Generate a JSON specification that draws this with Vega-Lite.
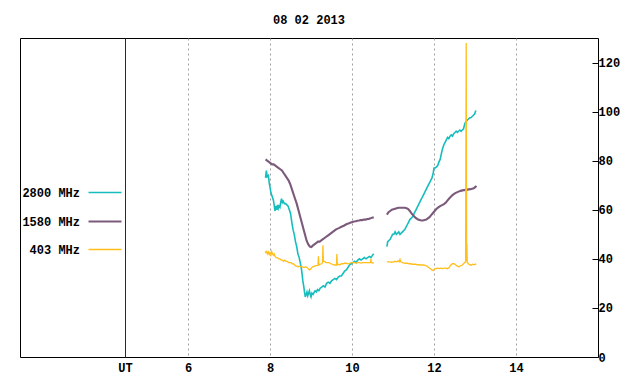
{
  "$schema": "https://vega.github.io/schema/vega-lite/v6.json",
  "width": 578,
  "height": 319,
  "autosize": "none",
  "padding": {"left": 20, "top": 38, "right": 42, "bottom": 27},
  "background": "white",
  "title": {"text": "08 02 2013", "font": "Liberation Mono", "fontSize": 12, "fontWeight": "bold", "color": "black", "anchor": "middle", "offset": 11},
  "config": {
    "view": {"stroke": "black", "strokeWidth": 1},
    "axis": {"labelFont": "Liberation Mono", "labelFontSize": 12, "labelFontWeight": "bold", "labelColor": "black", "domain": false}
  },
  "data": {"values": [
    {"t":7.89,"f":"2800 MHz","v":73},{"t":7.91,"f":"2800 MHz","v":76},{"t":7.93,"f":"2800 MHz","v":73.5},{"t":7.96,"f":"2800 MHz","v":74},{"t":7.98,"f":"2800 MHz","v":71},{"t":8.0,"f":"2800 MHz","v":69},{"t":8.02,"f":"2800 MHz","v":67},{"t":8.04,"f":"2800 MHz","v":66},{"t":8.06,"f":"2800 MHz","v":65},{"t":8.08,"f":"2800 MHz","v":64},{"t":8.1,"f":"2800 MHz","v":62},{"t":8.12,"f":"2800 MHz","v":59.5},{"t":8.14,"f":"2800 MHz","v":61.5},{"t":8.16,"f":"2800 MHz","v":60},{"t":8.18,"f":"2800 MHz","v":62},{"t":8.2,"f":"2800 MHz","v":60.5},{"t":8.22,"f":"2800 MHz","v":61.5},{"t":8.24,"f":"2800 MHz","v":61},{"t":8.26,"f":"2800 MHz","v":63},{"t":8.28,"f":"2800 MHz","v":64.5},{"t":8.3,"f":"2800 MHz","v":63},{"t":8.32,"f":"2800 MHz","v":63.5},{"t":8.35,"f":"2800 MHz","v":62.5},{"t":8.38,"f":"2800 MHz","v":62.5},{"t":8.41,"f":"2800 MHz","v":62},{"t":8.44,"f":"2800 MHz","v":61.5},{"t":8.47,"f":"2800 MHz","v":60},{"t":8.5,"f":"2800 MHz","v":58.5},{"t":8.53,"f":"2800 MHz","v":55},{"t":8.56,"f":"2800 MHz","v":52},{"t":8.59,"f":"2800 MHz","v":50},{"t":8.62,"f":"2800 MHz","v":47},{"t":8.65,"f":"2800 MHz","v":45},{"t":8.68,"f":"2800 MHz","v":42},{"t":8.71,"f":"2800 MHz","v":40.5},{"t":8.73,"f":"2800 MHz","v":39},{"t":8.76,"f":"2800 MHz","v":36.5},{"t":8.78,"f":"2800 MHz","v":34},{"t":8.8,"f":"2800 MHz","v":31},{"t":8.82,"f":"2800 MHz","v":29},{"t":8.84,"f":"2800 MHz","v":26.5},{"t":8.86,"f":"2800 MHz","v":24.5},{"t":8.88,"f":"2800 MHz","v":25.5},{"t":8.9,"f":"2800 MHz","v":26.5},{"t":8.92,"f":"2800 MHz","v":25},{"t":8.94,"f":"2800 MHz","v":26},{"t":8.96,"f":"2800 MHz","v":27},{"t":8.98,"f":"2800 MHz","v":25.5},{"t":9.0,"f":"2800 MHz","v":24.5},{"t":9.02,"f":"2800 MHz","v":26},{"t":9.05,"f":"2800 MHz","v":25.5},{"t":9.08,"f":"2800 MHz","v":26.5},{"t":9.1,"f":"2800 MHz","v":27},{"t":9.13,"f":"2800 MHz","v":26.5},{"t":9.16,"f":"2800 MHz","v":27.5},{"t":9.19,"f":"2800 MHz","v":27},{"t":9.22,"f":"2800 MHz","v":28},{"t":9.26,"f":"2800 MHz","v":28.5},{"t":9.3,"f":"2800 MHz","v":29},{"t":9.34,"f":"2800 MHz","v":28.5},{"t":9.38,"f":"2800 MHz","v":30},{"t":9.42,"f":"2800 MHz","v":30.5},{"t":9.46,"f":"2800 MHz","v":30},{"t":9.5,"f":"2800 MHz","v":31},{"t":9.54,"f":"2800 MHz","v":31.5},{"t":9.58,"f":"2800 MHz","v":32},{"t":9.62,"f":"2800 MHz","v":31.5},{"t":9.66,"f":"2800 MHz","v":32.5},{"t":9.7,"f":"2800 MHz","v":33},{"t":9.74,"f":"2800 MHz","v":33},{"t":9.78,"f":"2800 MHz","v":34},{"t":9.82,"f":"2800 MHz","v":35},{"t":9.86,"f":"2800 MHz","v":35.5},{"t":9.9,"f":"2800 MHz","v":36.5},{"t":9.94,"f":"2800 MHz","v":37.5},{"t":9.98,"f":"2800 MHz","v":38},{"t":10.02,"f":"2800 MHz","v":38.5},{"t":10.06,"f":"2800 MHz","v":39},{"t":10.1,"f":"2800 MHz","v":38.5},{"t":10.14,"f":"2800 MHz","v":39.5},{"t":10.18,"f":"2800 MHz","v":40},{"t":10.22,"f":"2800 MHz","v":39.5},{"t":10.26,"f":"2800 MHz","v":40},{"t":10.3,"f":"2800 MHz","v":40.5},{"t":10.34,"f":"2800 MHz","v":40},{"t":10.38,"f":"2800 MHz","v":40.5},{"t":10.42,"f":"2800 MHz","v":41},{"t":10.46,"f":"2800 MHz","v":40.5},{"t":10.5,"f":"2800 MHz","v":41.5},{"t":10.53,"f":"2800 MHz","v":42},
    {"t":10.7,"f":"2800 MHz","v":null},
    {"t":10.85,"f":"2800 MHz","v":45},{"t":10.87,"f":"2800 MHz","v":47},{"t":10.9,"f":"2800 MHz","v":47.5},{"t":10.93,"f":"2800 MHz","v":48},{"t":10.96,"f":"2800 MHz","v":49},{"t":10.99,"f":"2800 MHz","v":50},{"t":11.02,"f":"2800 MHz","v":50},{"t":11.05,"f":"2800 MHz","v":51},{"t":11.08,"f":"2800 MHz","v":50},{"t":11.11,"f":"2800 MHz","v":50.5},{"t":11.14,"f":"2800 MHz","v":51},{"t":11.17,"f":"2800 MHz","v":50},{"t":11.2,"f":"2800 MHz","v":50.5},{"t":11.23,"f":"2800 MHz","v":51},{"t":11.26,"f":"2800 MHz","v":51.5},{"t":11.29,"f":"2800 MHz","v":52},{"t":11.32,"f":"2800 MHz","v":53},{"t":11.35,"f":"2800 MHz","v":54},{"t":11.38,"f":"2800 MHz","v":55},{"t":11.41,"f":"2800 MHz","v":56},{"t":11.44,"f":"2800 MHz","v":56.5},{"t":11.47,"f":"2800 MHz","v":57},{"t":11.5,"f":"2800 MHz","v":58},{"t":11.53,"f":"2800 MHz","v":59},{"t":11.56,"f":"2800 MHz","v":60},{"t":11.59,"f":"2800 MHz","v":61},{"t":11.62,"f":"2800 MHz","v":62},{"t":11.65,"f":"2800 MHz","v":63},{"t":11.68,"f":"2800 MHz","v":64},{"t":11.71,"f":"2800 MHz","v":65},{"t":11.74,"f":"2800 MHz","v":66},{"t":11.77,"f":"2800 MHz","v":67},{"t":11.8,"f":"2800 MHz","v":68},{"t":11.83,"f":"2800 MHz","v":69},{"t":11.86,"f":"2800 MHz","v":70},{"t":11.89,"f":"2800 MHz","v":71},{"t":11.92,"f":"2800 MHz","v":72},{"t":11.95,"f":"2800 MHz","v":73},{"t":11.98,"f":"2800 MHz","v":75},{"t":12.0,"f":"2800 MHz","v":77},{"t":12.03,"f":"2800 MHz","v":77},{"t":12.06,"f":"2800 MHz","v":77.5},{"t":12.09,"f":"2800 MHz","v":78},{"t":12.12,"f":"2800 MHz","v":79.5},{"t":12.15,"f":"2800 MHz","v":80.5},{"t":12.18,"f":"2800 MHz","v":83},{"t":12.21,"f":"2800 MHz","v":85},{"t":12.24,"f":"2800 MHz","v":86.5},{"t":12.27,"f":"2800 MHz","v":87.5},{"t":12.3,"f":"2800 MHz","v":88.5},{"t":12.33,"f":"2800 MHz","v":89.5},{"t":12.36,"f":"2800 MHz","v":89},{"t":12.39,"f":"2800 MHz","v":90},{"t":12.42,"f":"2800 MHz","v":90.5},{"t":12.45,"f":"2800 MHz","v":90},{"t":12.48,"f":"2800 MHz","v":91},{"t":12.51,"f":"2800 MHz","v":91.5},{"t":12.54,"f":"2800 MHz","v":92},{"t":12.57,"f":"2800 MHz","v":91.5},{"t":12.6,"f":"2800 MHz","v":92},{"t":12.63,"f":"2800 MHz","v":92.5},{"t":12.66,"f":"2800 MHz","v":92},{"t":12.69,"f":"2800 MHz","v":92.5},{"t":12.72,"f":"2800 MHz","v":93},{"t":12.75,"f":"2800 MHz","v":95},{"t":12.78,"f":"2800 MHz","v":96},{"t":12.81,"f":"2800 MHz","v":96.5},{"t":12.84,"f":"2800 MHz","v":97},{"t":12.87,"f":"2800 MHz","v":97.5},{"t":12.9,"f":"2800 MHz","v":97.5},{"t":12.93,"f":"2800 MHz","v":98},{"t":12.96,"f":"2800 MHz","v":98.5},{"t":12.99,"f":"2800 MHz","v":99},{"t":13.02,"f":"2800 MHz","v":100.5},
    {"t":7.89,"f":"1580 MHz","v":80.5},{"t":7.93,"f":"1580 MHz","v":80},{"t":7.97,"f":"1580 MHz","v":79.5},{"t":8.01,"f":"1580 MHz","v":79},{"t":8.05,"f":"1580 MHz","v":78.5},{"t":8.09,"f":"1580 MHz","v":78.5},{"t":8.13,"f":"1580 MHz","v":78},{"t":8.17,"f":"1580 MHz","v":77.5},{"t":8.21,"f":"1580 MHz","v":77},{"t":8.25,"f":"1580 MHz","v":76.5},{"t":8.29,"f":"1580 MHz","v":76},{"t":8.33,"f":"1580 MHz","v":75},{"t":8.37,"f":"1580 MHz","v":74},{"t":8.41,"f":"1580 MHz","v":73},{"t":8.45,"f":"1580 MHz","v":72},{"t":8.49,"f":"1580 MHz","v":70.5},{"t":8.53,"f":"1580 MHz","v":68.5},{"t":8.57,"f":"1580 MHz","v":66.5},{"t":8.61,"f":"1580 MHz","v":64.5},{"t":8.65,"f":"1580 MHz","v":62.5},{"t":8.69,"f":"1580 MHz","v":60},{"t":8.73,"f":"1580 MHz","v":57.5},{"t":8.77,"f":"1580 MHz","v":55},{"t":8.81,"f":"1580 MHz","v":52.5},{"t":8.85,"f":"1580 MHz","v":50},{"t":8.89,"f":"1580 MHz","v":47.5},{"t":8.93,"f":"1580 MHz","v":46},{"t":8.97,"f":"1580 MHz","v":45},{"t":9.01,"f":"1580 MHz","v":44.8},{"t":9.05,"f":"1580 MHz","v":45.5},{"t":9.09,"f":"1580 MHz","v":46},{"t":9.13,"f":"1580 MHz","v":46.5},{"t":9.17,"f":"1580 MHz","v":47},{"t":9.21,"f":"1580 MHz","v":47},{"t":9.25,"f":"1580 MHz","v":47.5},{"t":9.29,"f":"1580 MHz","v":48},{"t":9.33,"f":"1580 MHz","v":48.5},{"t":9.37,"f":"1580 MHz","v":49},{"t":9.41,"f":"1580 MHz","v":49.5},{"t":9.45,"f":"1580 MHz","v":50},{"t":9.49,"f":"1580 MHz","v":50.5},{"t":9.53,"f":"1580 MHz","v":51},{"t":9.57,"f":"1580 MHz","v":51.5},{"t":9.61,"f":"1580 MHz","v":52},{"t":9.65,"f":"1580 MHz","v":52.3},{"t":9.69,"f":"1580 MHz","v":52.6},{"t":9.73,"f":"1580 MHz","v":53},{"t":9.77,"f":"1580 MHz","v":53.3},{"t":9.81,"f":"1580 MHz","v":53.6},{"t":9.85,"f":"1580 MHz","v":54},{"t":9.89,"f":"1580 MHz","v":54.3},{"t":9.93,"f":"1580 MHz","v":54.5},{"t":9.97,"f":"1580 MHz","v":54.8},{"t":10.01,"f":"1580 MHz","v":55},{"t":10.05,"f":"1580 MHz","v":55.2},{"t":10.09,"f":"1580 MHz","v":55.3},{"t":10.13,"f":"1580 MHz","v":55.5},{"t":10.17,"f":"1580 MHz","v":55.6},{"t":10.21,"f":"1580 MHz","v":55.8},{"t":10.25,"f":"1580 MHz","v":55.8},{"t":10.29,"f":"1580 MHz","v":56},{"t":10.33,"f":"1580 MHz","v":56},{"t":10.37,"f":"1580 MHz","v":56.2},{"t":10.41,"f":"1580 MHz","v":56.3},{"t":10.45,"f":"1580 MHz","v":56.5},{"t":10.49,"f":"1580 MHz","v":56.8},{"t":10.53,"f":"1580 MHz","v":57},
    {"t":10.7,"f":"1580 MHz","v":null},
    {"t":10.85,"f":"1580 MHz","v":58},{"t":10.89,"f":"1580 MHz","v":59},{"t":10.93,"f":"1580 MHz","v":59.5},{"t":10.97,"f":"1580 MHz","v":60},{"t":11.01,"f":"1580 MHz","v":60.2},{"t":11.05,"f":"1580 MHz","v":60.4},{"t":11.09,"f":"1580 MHz","v":60.6},{"t":11.13,"f":"1580 MHz","v":60.8},{"t":11.17,"f":"1580 MHz","v":60.8},{"t":11.21,"f":"1580 MHz","v":60.8},{"t":11.25,"f":"1580 MHz","v":60.8},{"t":11.29,"f":"1580 MHz","v":60.8},{"t":11.33,"f":"1580 MHz","v":60.6},{"t":11.37,"f":"1580 MHz","v":60.3},{"t":11.41,"f":"1580 MHz","v":59.5},{"t":11.45,"f":"1580 MHz","v":58.5},{"t":11.49,"f":"1580 MHz","v":57.8},{"t":11.53,"f":"1580 MHz","v":57},{"t":11.57,"f":"1580 MHz","v":56.5},{"t":11.61,"f":"1580 MHz","v":56},{"t":11.65,"f":"1580 MHz","v":55.8},{"t":11.69,"f":"1580 MHz","v":55.6},{"t":11.73,"f":"1580 MHz","v":55.6},{"t":11.77,"f":"1580 MHz","v":55.8},{"t":11.81,"f":"1580 MHz","v":56},{"t":11.85,"f":"1580 MHz","v":56.5},{"t":11.89,"f":"1580 MHz","v":57},{"t":11.93,"f":"1580 MHz","v":57.8},{"t":11.97,"f":"1580 MHz","v":58.6},{"t":12.01,"f":"1580 MHz","v":59.4},{"t":12.05,"f":"1580 MHz","v":60.2},{"t":12.09,"f":"1580 MHz","v":60.8},{"t":12.13,"f":"1580 MHz","v":61.3},{"t":12.17,"f":"1580 MHz","v":61.7},{"t":12.21,"f":"1580 MHz","v":62},{"t":12.25,"f":"1580 MHz","v":62.4},{"t":12.29,"f":"1580 MHz","v":63},{"t":12.33,"f":"1580 MHz","v":63.8},{"t":12.37,"f":"1580 MHz","v":64.6},{"t":12.41,"f":"1580 MHz","v":65.3},{"t":12.45,"f":"1580 MHz","v":66},{"t":12.49,"f":"1580 MHz","v":66.5},{"t":12.53,"f":"1580 MHz","v":66.9},{"t":12.57,"f":"1580 MHz","v":67.2},{"t":12.61,"f":"1580 MHz","v":67.5},{"t":12.65,"f":"1580 MHz","v":67.7},{"t":12.69,"f":"1580 MHz","v":67.9},{"t":12.73,"f":"1580 MHz","v":68},{"t":12.77,"f":"1580 MHz","v":68.1},{"t":12.81,"f":"1580 MHz","v":68.2},{"t":12.85,"f":"1580 MHz","v":68.3},{"t":12.89,"f":"1580 MHz","v":68.4},{"t":12.93,"f":"1580 MHz","v":68.6},{"t":12.97,"f":"1580 MHz","v":68.8},{"t":13.01,"f":"1580 MHz","v":69.3},{"t":13.03,"f":"1580 MHz","v":69.8},
    {"t":7.88,"f":"403 MHz","v":43},{"t":7.9,"f":"403 MHz","v":42.5},{"t":7.92,"f":"403 MHz","v":43},{"t":7.94,"f":"403 MHz","v":42},{"t":7.96,"f":"403 MHz","v":42.8},{"t":7.98,"f":"403 MHz","v":41.8},{"t":8.0,"f":"403 MHz","v":42.5},{"t":8.02,"f":"403 MHz","v":41.5},{"t":8.04,"f":"403 MHz","v":43},{"t":8.06,"f":"403 MHz","v":42},{"t":8.08,"f":"403 MHz","v":41.5},{"t":8.1,"f":"403 MHz","v":42},{"t":8.12,"f":"403 MHz","v":41},{"t":8.15,"f":"403 MHz","v":40.5},{"t":8.18,"f":"403 MHz","v":40.5},{"t":8.21,"f":"403 MHz","v":40},{"t":8.24,"f":"403 MHz","v":40},{"t":8.27,"f":"403 MHz","v":39.5},{"t":8.3,"f":"403 MHz","v":39.5},{"t":8.33,"f":"403 MHz","v":39},{"t":8.36,"f":"403 MHz","v":39.5},{"t":8.39,"f":"403 MHz","v":39},{"t":8.42,"f":"403 MHz","v":39},{"t":8.45,"f":"403 MHz","v":38.5},{"t":8.48,"f":"403 MHz","v":38.5},{"t":8.51,"f":"403 MHz","v":38.5},{"t":8.54,"f":"403 MHz","v":38},{"t":8.57,"f":"403 MHz","v":38},{"t":8.6,"f":"403 MHz","v":37.5},{"t":8.63,"f":"403 MHz","v":37},{"t":8.66,"f":"403 MHz","v":37},{"t":8.69,"f":"403 MHz","v":36.8},{"t":8.72,"f":"403 MHz","v":37},{"t":8.75,"f":"403 MHz","v":36.8},{"t":8.78,"f":"403 MHz","v":36.8},{"t":8.81,"f":"403 MHz","v":36.5},{"t":8.84,"f":"403 MHz","v":36.5},{"t":8.87,"f":"403 MHz","v":36.8},{"t":8.9,"f":"403 MHz","v":36.5},{"t":8.93,"f":"403 MHz","v":36},{"t":8.96,"f":"403 MHz","v":35.5},{"t":8.99,"f":"403 MHz","v":35.8},{"t":9.02,"f":"403 MHz","v":36.5},{"t":9.05,"f":"403 MHz","v":36.8},{"t":9.08,"f":"403 MHz","v":37},{"t":9.11,"f":"403 MHz","v":37.2},{"t":9.14,"f":"403 MHz","v":37.2},{"t":9.17,"f":"403 MHz","v":37.5},{"t":9.18,"f":"403 MHz","v":41},{"t":9.19,"f":"403 MHz","v":37.5},{"t":9.22,"f":"403 MHz","v":37.8},{"t":9.26,"f":"403 MHz","v":38},{"t":9.28,"f":"403 MHz","v":38.5},{"t":9.29,"f":"403 MHz","v":45.5},{"t":9.3,"f":"403 MHz","v":39},{"t":9.33,"f":"403 MHz","v":39},{"t":9.36,"f":"403 MHz","v":38.5},{"t":9.4,"f":"403 MHz","v":38.5},{"t":9.44,"f":"403 MHz","v":38.5},{"t":9.48,"f":"403 MHz","v":38},{"t":9.52,"f":"403 MHz","v":37.8},{"t":9.56,"f":"403 MHz","v":37.5},{"t":9.6,"f":"403 MHz","v":37.5},{"t":9.62,"f":"403 MHz","v":37.5},{"t":9.63,"f":"403 MHz","v":42},{"t":9.64,"f":"403 MHz","v":37.5},{"t":9.67,"f":"403 MHz","v":37.8},{"t":9.7,"f":"403 MHz","v":37.5},{"t":9.74,"f":"403 MHz","v":38},{"t":9.78,"f":"403 MHz","v":38},{"t":9.82,"f":"403 MHz","v":38.2},{"t":9.86,"f":"403 MHz","v":38.2},{"t":9.9,"f":"403 MHz","v":38},{"t":9.94,"f":"403 MHz","v":38.2},{"t":9.98,"f":"403 MHz","v":38.5},{"t":10.02,"f":"403 MHz","v":38.5},{"t":10.06,"f":"403 MHz","v":38.5},{"t":10.1,"f":"403 MHz","v":38.3},{"t":10.14,"f":"403 MHz","v":38.5},{"t":10.18,"f":"403 MHz","v":38.5},{"t":10.22,"f":"403 MHz","v":38.3},{"t":10.26,"f":"403 MHz","v":38.5},{"t":10.3,"f":"403 MHz","v":38.5},{"t":10.34,"f":"403 MHz","v":38.5},{"t":10.38,"f":"403 MHz","v":38.5},{"t":10.42,"f":"403 MHz","v":38.5},{"t":10.45,"f":"403 MHz","v":38.5},{"t":10.46,"f":"403 MHz","v":40},{"t":10.47,"f":"403 MHz","v":38.5},{"t":10.5,"f":"403 MHz","v":38.3},{"t":10.53,"f":"403 MHz","v":38.5},
    {"t":10.7,"f":"403 MHz","v":null},
    {"t":10.85,"f":"403 MHz","v":38.8},{"t":10.89,"f":"403 MHz","v":38.8},{"t":10.93,"f":"403 MHz","v":38.8},{"t":10.97,"f":"403 MHz","v":38.6},{"t":11.01,"f":"403 MHz","v":38.8},{"t":11.05,"f":"403 MHz","v":39},{"t":11.09,"f":"403 MHz","v":38.8},{"t":11.12,"f":"403 MHz","v":39.2},{"t":11.15,"f":"403 MHz","v":38.8},{"t":11.17,"f":"403 MHz","v":39.8},{"t":11.19,"f":"403 MHz","v":38.8},{"t":11.23,"f":"403 MHz","v":38.5},{"t":11.27,"f":"403 MHz","v":38.3},{"t":11.31,"f":"403 MHz","v":38.2},{"t":11.35,"f":"403 MHz","v":38.2},{"t":11.39,"f":"403 MHz","v":38},{"t":11.43,"f":"403 MHz","v":38},{"t":11.47,"f":"403 MHz","v":37.8},{"t":11.51,"f":"403 MHz","v":37.8},{"t":11.55,"f":"403 MHz","v":37.8},{"t":11.59,"f":"403 MHz","v":37.6},{"t":11.63,"f":"403 MHz","v":37.6},{"t":11.67,"f":"403 MHz","v":37.5},{"t":11.71,"f":"403 MHz","v":37.5},{"t":11.75,"f":"403 MHz","v":37.5},{"t":11.79,"f":"403 MHz","v":37.2},{"t":11.83,"f":"403 MHz","v":37},{"t":11.87,"f":"403 MHz","v":36.5},{"t":11.91,"f":"403 MHz","v":36},{"t":11.95,"f":"403 MHz","v":35.5},{"t":11.98,"f":"403 MHz","v":35.2},{"t":12.01,"f":"403 MHz","v":35.8},{"t":12.05,"f":"403 MHz","v":36},{"t":12.09,"f":"403 MHz","v":36.2},{"t":12.13,"f":"403 MHz","v":36},{"t":12.17,"f":"403 MHz","v":36.2},{"t":12.21,"f":"403 MHz","v":36},{"t":12.25,"f":"403 MHz","v":36.2},{"t":12.29,"f":"403 MHz","v":36.2},{"t":12.33,"f":"403 MHz","v":36},{"t":12.37,"f":"403 MHz","v":36.5},{"t":12.41,"f":"403 MHz","v":37.5},{"t":12.45,"f":"403 MHz","v":38},{"t":12.49,"f":"403 MHz","v":38},{"t":12.53,"f":"403 MHz","v":37.5},{"t":12.57,"f":"403 MHz","v":37},{"t":12.61,"f":"403 MHz","v":36.8},{"t":12.65,"f":"403 MHz","v":37.2},{"t":12.69,"f":"403 MHz","v":37.5},{"t":12.73,"f":"403 MHz","v":38.2},{"t":12.77,"f":"403 MHz","v":38.8},{"t":12.785,"f":"403 MHz","v":128},{"t":12.795,"f":"403 MHz","v":39},{"t":12.8,"f":"403 MHz","v":46},{"t":12.81,"f":"403 MHz","v":38.5},{"t":12.85,"f":"403 MHz","v":37.8},{"t":12.88,"f":"403 MHz","v":37.5},{"t":12.91,"f":"403 MHz","v":37.5},{"t":12.94,"f":"403 MHz","v":37.8},{"t":12.97,"f":"403 MHz","v":37.6},{"t":13.0,"f":"403 MHz","v":37.8},{"t":13.03,"f":"403 MHz","v":37.8}
  ]},
  "mark": {"type": "line", "invalid": "break-paths-show-domains", "interpolate": "linear"},
  "encoding": {
    "x": {"field": "t", "type": "quantitative", "title": null,
      "scale": {"domain": [1.9, 16], "nice": false, "zero": false},
      "axis": {"orient": "bottom", "values": [4.46, 6, 8, 10, 12, 14], "format": "d",
        "labelExpr": "datum.value < 5 ? 'UT' : datum.label",
        "ticks": false, "labelPadding": 5,
        "grid": true,
        "gridColor": {"condition": {"test": "datum.value < 5", "value": "#8b0000"}, "value": "#a0a0a0"},
        "gridDash": {"condition": {"test": "datum.value < 5", "value": []}, "value": [2, 3]},
        "gridWidth": 1, "gridOpacity": 1}},
    "y": {"field": "v", "type": "quantitative", "title": null,
      "scale": {"domain": [0, 130], "nice": false},
      "axis": {"orient": "right", "values": [0, 20, 40, 60, 80, 100, 120], "grid": false,
        "ticks": true, "tickSize": -6, "tickColor": "black", "labelPadding": 6}},
    "color": {"field": "f", "type": "nominal",
      "scale": {"domain": ["2800 MHz", "1580 MHz", "403 MHz"], "range": ["#16bdbd", "#7b5a7b", "#ffbe1a"]},
      "legend": {"orient": "none", "legendX": 67, "legendY": 137, "title": null, "padding": 0,
        "symbolType": "stroke", "symbolSize": 1089, "symbolStrokeWidth": 1,
        "labelAlign": "right", "labelOffset": -43,
        "labelExpr": "datum.label == '403 MHz' ? '\u00a0403 MHz' : datum.label",
        "labelFont": "Liberation Mono", "labelFontSize": 12, "labelFontWeight": "bold", "labelColor": "black",
        "rowPadding": 4.5}},
    "strokeWidth": {"field": "f", "type": "nominal",
      "scale": {"type": "ordinal", "domain": ["2800 MHz", "1580 MHz", "403 MHz"], "range": [1.6, 2.1, 1.3]},
      "legend": null}
  }
}
